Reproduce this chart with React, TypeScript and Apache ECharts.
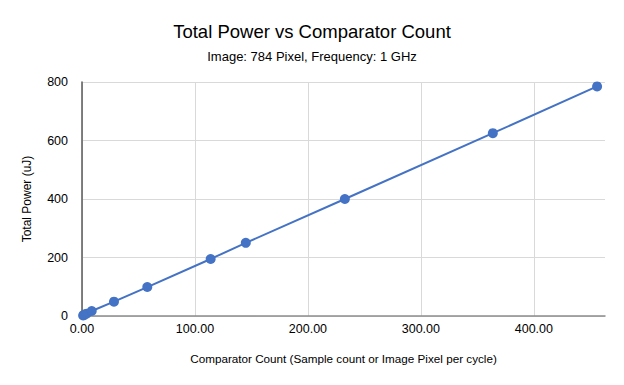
import React, { useEffect, useRef } from "react";
import * as echarts from "echarts";

const comparatorCount = [1, 2, 4, 8.6, 28.3, 57.8, 113.9, 145, 232.7, 363.7, 456];
const totalPower = [2, 4, 8, 17, 49, 99, 195, 250, 400, 625, 785];
const titleText = "Total Power vs Comparator Count";
const subtitleText = "Image: 784 Pixel, Frequency: 1 GHz";
const xName = "Comparator Count (Sample count or Image Pixel per cycle)";
const yName = "Total Power (uJ)";

const FONT = "Liberation Sans";

export default function App() {
  const ref = useRef<HTMLDivElement>(null);
  useEffect(() => {
    if (!ref.current) return;
    const chart = echarts.init(ref.current, undefined, { renderer: "svg" });
    chart.setOption({
      animation: false,
      textStyle: { fontFamily: FONT },
      title: {
        text: titleText,
        subtext: subtitleText,
        left: "center",
        top: 17,
        itemGap: 9,
        textStyle: { fontFamily: FONT, fontSize: 18.5, fontWeight: "normal", color: "#000" },
        subtextStyle: { fontFamily: FONT, fontSize: 13, color: "#000" },
      },
      grid: { left: 82, right: 19, top: 82, bottom: 69 },
      xAxis: {
        type: "value",
        min: 0,
        max: 463,
        interval: 100,
        name: xName,
        nameLocation: "middle",
        nameGap: 36,
        nameTextStyle: { fontFamily: FONT, fontSize: 11.7, color: "#000" },
        axisLine: { show: true, lineStyle: { color: "#8c8c8c", width: 1.5 } },
        axisTick: { show: false },
        axisLabel: {
          color: "#000",
          fontSize: 12.5,
          fontFamily: FONT,
          showMaxLabel: false,
          margin: 6,
          formatter: (v: number) => v.toFixed(2),
        },
        splitLine: { show: true, showMaxLine: false, lineStyle: { color: "#d9d9d9", width: 1 } },
      },
      yAxis: {
        type: "value",
        min: 0,
        max: 800,
        interval: 200,
        name: yName,
        nameLocation: "middle",
        nameGap: 49,
        nameTextStyle: { fontFamily: FONT, fontSize: 12, color: "#000" },
        axisLine: { show: true, lineStyle: { color: "#595959", width: 1.5 } },
        axisTick: { show: false },
        axisLabel: { color: "#000", fontSize: 12.5, fontFamily: FONT, margin: 14 },
        splitLine: { show: true, lineStyle: { color: "#d9d9d9", width: 1 } },
      },
      series: [
        {
          type: "line",
          data: comparatorCount.map((x, i) => [x, totalPower[i]]),
          symbol: "circle",
          symbolSize: 10,
          lineStyle: { color: "#4472C4", width: 2 },
          itemStyle: { color: "#4472C4" },
        },
      ],
    });
    return () => chart.dispose();
  }, []);
  return (
    <div
      ref={ref}
      style={{ position: "absolute", left: 0, top: 0, width: 624, height: 385 }}
    />
  );
}
